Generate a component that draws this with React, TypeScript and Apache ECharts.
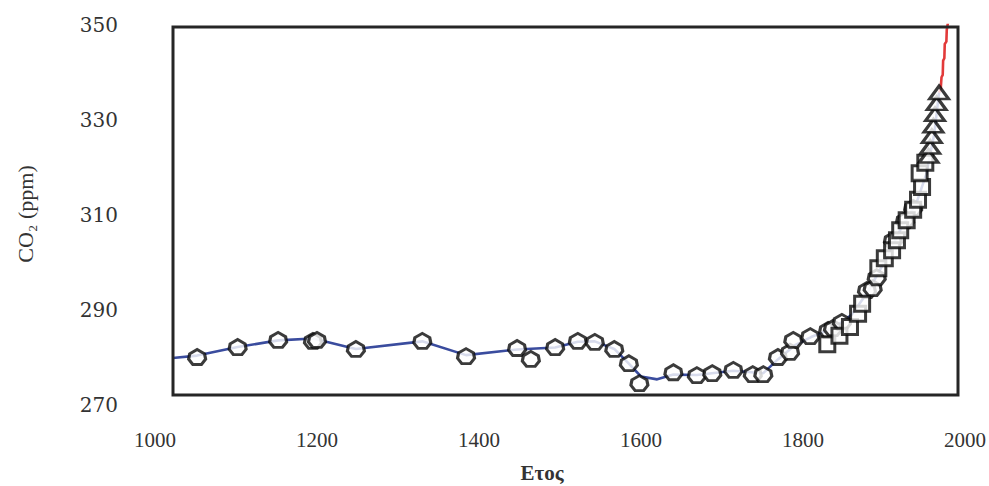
import React, { useEffect, useRef } from "react";
import * as echarts from "echarts";

// Tick labels
const xTicks = [1000, 1200, 1400, 1600, 1800, 2000];
const yTicks = [270, 290, 310, 330, 350];

// Smoothed ice-core curve (blue line) [year, ppm]
const iceCoreLine: [number, number][] = [
  [1022, 279.9], [1052, 280.4], [1102, 282.2], [1152, 283.6], [1195, 284.0],
  [1248, 281.8], [1330, 283.4], [1384, 280.5], [1447, 281.7], [1494, 282.1],
  [1522, 283.3], [1543, 283.4], [1567, 281.8], [1585, 278.7], [1600, 276.0],
  [1620, 275.4], [1640, 276.4], [1669, 276.3], [1714, 277.2], [1751, 276.7],
  [1769, 279.6], [1790, 282.6], [1810, 284.3], [1840, 286.4], [1860, 289.0],
  [1880, 293.8], [1900, 300.0], [1920, 306.8], [1940, 312.5], [1952, 318.5],
  [1962, 327.0], [1968, 335.8],
];

// Ice-core samples (hexagon markers)
const lawDome: [number, number][] = [
  [1052, 280.1], [1102, 282.2], [1152, 283.7], [1195, 283.5], [1200, 283.7],
  [1248, 281.8], [1330, 283.5], [1384, 280.3], [1447, 282.0], [1464, 279.7],
  [1494, 282.2], [1522, 283.5], [1543, 283.3], [1567, 281.8], [1585, 278.8],
  [1598, 274.6], [1640, 276.9], [1669, 276.3], [1688, 276.7], [1714, 277.4],
  [1738, 276.5], [1751, 276.5], [1769, 280.1], [1784, 281.2], [1788, 283.7],
  [1809, 284.5], [1831, 285.8], [1837, 286.2], [1848, 287.5], [1879, 294.2],
  [1886, 294.6], [1891, 296.9], [1911, 304.7], [1926, 308.9], [1936, 311.5],
];

// Siple samples (square markers)
const siple: [number, number][] = [
  [1830, 282.8], [1845, 284.6], [1858, 286.4], [1868, 289.2], [1873, 291.3],
  [1893, 298.8], [1901, 300.9], [1910, 302.6], [1916, 304.7], [1920, 306.8],
  [1928, 308.9], [1936, 311.1], [1942, 313.2], [1947, 315.9], [1944, 318.8],
  [1951, 321.0],
];

// Direct samples (triangle markers)
const direct: [number, number][] = [
  [1955, 322.4], [1957, 324.3], [1959, 326.6], [1961, 328.8], [1963, 331.2],
  [1965, 333.5], [1968, 335.8],
];

// Instrumental record (red line)
const instrumental: [number, number][] = [
  [1968, 335.8], [1970, 336.5], [1971, 339.0], [1972.5, 339.5], [1973, 342.5],
  [1974.5, 343.0], [1975, 346.0], [1977, 346.5], [1977.5, 349.0], [1979, 350.5],
];

const hexPath = "path://M8,0 L15,4 L16,9 L12,14 L4,14 L0,9 L1,4 Z";

export default function App() {
  const ref = useRef<HTMLDivElement>(null);
  useEffect(() => {
    if (!ref.current) return;
    const chart = echarts.init(ref.current, undefined, { renderer: "svg" });
    const markerStyle = { color: "#ffffff", borderColor: "#0a0a0a", borderWidth: 3 };
    chart.setOption({
      animation: false,
      backgroundColor: "#ffffff",
      grid: { left: 155, right: 24, top: 25, bottom: 81 },
      xAxis: {
        type: "value",
        min: xTicks[0],
        max: xTicks[xTicks.length - 1],
        interval: 200,
        axisLine: { show: false },
        axisTick: { show: false },
        splitLine: { show: false },
        axisLabel: {
          margin: 24,
          fontFamily: "Liberation Serif",
          fontSize: 21,
          color: "#333333",
          showMinLabel: true,
          showMaxLabel: true,
          formatter: (v: number) => String(v),
        },
      },
      yAxis: {
        type: "value",
        min: yTicks[0],
        max: yTicks[yTicks.length - 1],
        interval: 20,
        axisLine: { show: false },
        axisTick: { show: false },
        splitLine: { show: false },
        axisLabel: {
          margin: 37,
          fontFamily: "DejaVu Serif",
          fontSize: 20,
          color: "#333333",
          showMinLabel: true,
          showMaxLabel: true,
          formatter: (v: number) => String(v),
        },
      },
      graphic: [
        {
          type: "rect",
          shape: { x: 173, y: 27, width: 785, height: 368 },
          style: { fill: "none", stroke: "#262626", lineWidth: 3 },
          z: 100,
        },
        {
          type: "text",
          x: 25,
          y: 214,
          rotation: Math.PI / 2,
          style: {
            text: "CO₂ (ppm)",
            fontFamily: "Liberation Serif",
            fontSize: 22,
            fill: "#333333",
            align: "center",
            verticalAlign: "middle",
          },
        },
        {
          type: "text",
          x: 542,
          y: 473,
          style: {
            text: "Ετος",
            fontFamily: "Liberation Serif",
            fontSize: 21,
            fontWeight: "bold",
            fill: "#333333",
            align: "center",
            verticalAlign: "middle",
          },
        },
      ],
      series: [
        {
          type: "line",
          data: iceCoreLine,
          showSymbol: false,
          lineStyle: { color: "#3a4c9e", width: 2.6 },
          z: 2,
        },
        {
          type: "line",
          data: instrumental,
          showSymbol: false,
          lineStyle: { color: "#e23a3a", width: 2.6 },
          z: 2,
        },
        {
          type: "scatter",
          data: lawDome,
          symbol: hexPath,
          symbolSize: [17, 15],
          itemStyle: markerStyle,
          z: 3,
        },
        {
          type: "scatter",
          data: siple,
          symbol: "rect",
          symbolSize: [15, 15],
          itemStyle: markerStyle,
          z: 4,
        },
        {
          type: "scatter",
          data: direct,
          symbol: "triangle",
          symbolSize: [19, 13],
          itemStyle: markerStyle,
          z: 5,
        },
      ],
    });
    return () => chart.dispose();
  }, []);
  return (
    <div
      ref={ref}
      style={{ position: "fixed", left: 0, top: 0, width: 989, height: 486 }}
    />
  );
}
